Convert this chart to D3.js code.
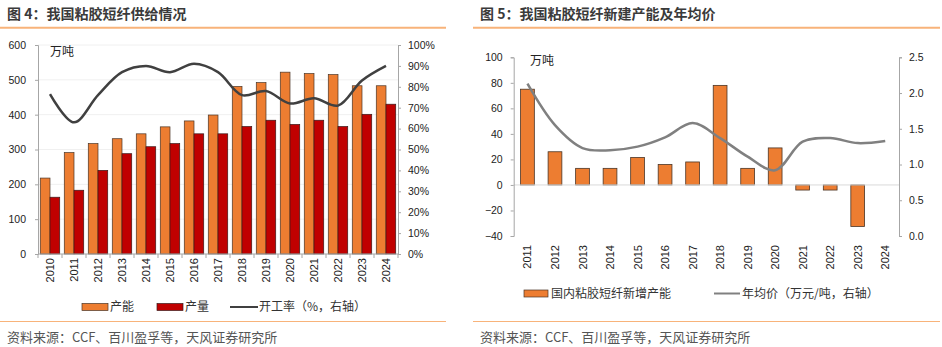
<!DOCTYPE html>
<html><head><meta charset="utf-8">
<script src="https://cdn.jsdelivr.net/npm/d3@7/dist/d3.min.js"></script>
<style>
html,body{margin:0;padding:0;background:#fff;}
svg{display:block;}
text{font-family:"Liberation Sans","Noto Sans CJK SC",sans-serif;}
.cjk{font-family:"Noto Sans CJK SC","Liberation Sans",sans-serif;}
</style></head>
<body>
<svg id="c" width="942" height="347"></svg>
<script>
// ---- Chart 1 data ----
const years1 = ["2010","2011","2012","2013","2014","2015","2016","2017","2018","2019","2020","2021","2022","2023","2024"];
const capacity = [218,291,317,331,345,365,382,399,481,492,522,518,515,483,483];
const production = [163,183,240,288,308,317,345,345,366,384,372,384,366,401,430];
const utilization = [0.765,0.63,0.76,0.87,0.90,0.87,0.91,0.87,0.76,0.78,0.72,0.745,0.71,0.83,0.90];
const leftTicks1 = [0,100,200,300,400,500,600];
const rightTicks1 = [0,0.1,0.2,0.3,0.4,0.5,0.6,0.7,0.8,0.9,1.0];

// ---- Chart 2 data ----
const years2 = ["2011","2012","2013","2014","2015","2016","2017","2018","2019","2020","2021","2022","2023","2024"];
const newCapacity = [75,26,13,13,21.5,16,18,78,13,29,-4,-4,-32.5,null];
const avgPrice = [2.13,1.55,1.23,1.20,1.25,1.38,1.58,1.37,1.11,0.92,1.32,1.37,1.30,1.33];
const leftTicks2 = [-40,-20,0,20,40,60,80,100];
const rightTicks2 = [0,0.5,1.0,1.5,2.0,2.5];

const ORANGE = "#ED7D31", RED = "#C00000", RULE = "#F8B37A";
const svg = d3.select("#c");

// ---- headers, rules, sources ----
function panelFrame(x0, x1, title) {
  svg.append("text").attr("class","cjk").attr("x", x0 + 7).attr("y", 19)
    .attr("font-size", 14).attr("font-weight", "bold").attr("fill", "#3a3a3a").text(title);
  svg.append("line").attr("x1", x0).attr("x2", x1).attr("y1", 27.7).attr("y2", 27.7)
    .attr("stroke", RULE).attr("stroke-width", 2);
  svg.append("line").attr("x1", x0).attr("x2", x1).attr("y1", 321.5).attr("y2", 321.5)
    .attr("stroke", RULE).attr("stroke-width", 1.2);
  svg.append("text").attr("class","cjk").attr("x", x0 + 7).attr("y", 342)
    .attr("font-size", 13).attr("fill", "#555").text("资料来源：CCF、百川盈孚等，天风证券研究所");
}
panelFrame(0, 446, "图 4：我国粘胶短纤供给情况");
panelFrame(473, 940, "图 5：我国粘胶短纤新建产能及年均价");

function styleAxis(g) {
  g.selectAll("path").attr("stroke", "#a6a6a6");
  g.selectAll("line").attr("stroke", "#a6a6a6");
  g.selectAll("text").attr("fill", "#222").attr("font-size", 10.5);
}

// ================= Chart 1 =================
const x1 = d3.scaleBand().domain(years1).range([38, 398]).paddingInner(0.19).paddingOuter(0.095);
const xs1 = d3.scaleBand().domain(["cap","prod"]).range([0, x1.bandwidth()]);
const yL1 = d3.scaleLinear().domain([0, 600]).range([254, 45]);
const yR1 = d3.scaleLinear().domain([0, 1]).range([254, 45]);

const g1 = svg.append("g");
g1.append("g").selectAll("line").data(leftTicks1.slice(1)).join("line")
  .attr("x1", 38).attr("x2", 398).attr("y1", d => yL1(d)).attr("y2", d => yL1(d))
  .attr("stroke", "#f0f0f0");

g1.append("g").selectAll("rect").data(years1).join("rect")
  .attr("x", d => x1(d) + xs1("cap")).attr("width", xs1.bandwidth())
  .attr("y", (d, i) => yL1(capacity[i])).attr("height", (d, i) => yL1(0) - yL1(capacity[i]))
  .attr("fill", ORANGE).attr("stroke", "#4a3526").attr("stroke-width", 0.7);
g1.append("g").selectAll("rect").data(years1).join("rect")
  .attr("x", d => x1(d) + xs1("prod")).attr("width", xs1.bandwidth())
  .attr("y", (d, i) => yL1(production[i])).attr("height", (d, i) => yL1(0) - yL1(production[i]))
  .attr("fill", RED).attr("stroke", "#3a1a1a").attr("stroke-width", 0.7);

const line1 = d3.line().x((d, i) => x1(years1[i]) + x1.bandwidth() / 2).y(d => yR1(d))
  .curve(d3.curveCatmullRom.alpha(0.5));
g1.append("path").datum(utilization).attr("d", line1).attr("fill", "none")
  .attr("stroke", "#404040").attr("stroke-width", 2.5);

const axL1 = g1.append("g").attr("transform", "translate(38,0)")
  .call(d3.axisLeft(yL1).tickValues(leftTicks1).tickSize(3).tickPadding(9).tickFormat(d3.format("d")));
styleAxis(axL1);
const axR1 = g1.append("g").attr("transform", "translate(398,0)")
  .call(d3.axisRight(yR1).tickValues(rightTicks1).tickSize(3).tickPadding(7).tickFormat(d3.format(".0%")));
styleAxis(axR1);
// bottom axis
g1.append("line").attr("x1", 38).attr("x2", 398).attr("y1", 254).attr("y2", 254).attr("stroke", "#a6a6a6");
g1.append("g").selectAll("line").data(years1.concat(["end"])).join("line")
  .attr("x1", (d, i) => 38 + i * x1.step() * (360 / (x1.step() * years1.length)))
  .attr("x2", (d, i) => 38 + i * x1.step() * (360 / (x1.step() * years1.length)))
  .attr("y1", 254).attr("y2", 258).attr("stroke", "#a6a6a6");
g1.append("g").selectAll("text").data(years1).join("text")
  .attr("transform", d => `translate(${x1(d) + x1.bandwidth() / 2},258) rotate(-90)`)
  .attr("text-anchor", "end").attr("dominant-baseline", "central")
  .attr("font-size", 11).attr("fill", "#222").text(d => d);
g1.append("text").attr("class","cjk").attr("x", 50).attr("y", 56).attr("font-size", 12).attr("fill", "#222").text("万吨");

// legend 1
const lg1 = g1.append("g");
lg1.append("rect").attr("x", 82).attr("y", 303.5).attr("width", 26).attr("height", 7).attr("fill", ORANGE).attr("stroke", "#4a3526").attr("stroke-width", 0.7);
lg1.append("text").attr("class","cjk").attr("x", 110).attr("y", 311).attr("font-size", 12).attr("fill", "#333").text("产能");
lg1.append("rect").attr("x", 157).attr("y", 303.5).attr("width", 26).attr("height", 7).attr("fill", RED).attr("stroke", "#3a1a1a").attr("stroke-width", 0.7);
lg1.append("text").attr("class","cjk").attr("x", 185).attr("y", 311).attr("font-size", 12).attr("fill", "#333").text("产量");
lg1.append("line").attr("x1", 230).attr("x2", 258).attr("y1", 307).attr("y2", 307).attr("stroke", "#404040").attr("stroke-width", 2);
lg1.append("text").attr("class","cjk").attr("x", 259).attr("y", 311).attr("font-size", 12).attr("fill", "#333").text("开工率（%，右轴）");

// ================= Chart 2 =================
const x2 = d3.scaleBand().domain(years2).range([513.7, 899]).paddingInner(0.5).paddingOuter(0.25);
const yL2 = d3.scaleLinear().domain([-40, 100]).range([236, 57.3]);
const yR2 = d3.scaleLinear().domain([0, 2.5]).range([236, 57.3]);
const g2 = svg.append("g");

g2.append("g").selectAll("rect").data(years2.filter((d, i) => newCapacity[i] !== null)).join("rect")
  .attr("x", d => x2(d)).attr("width", x2.bandwidth())
  .attr("y", d => yL2(Math.max(0, newCapacity[years2.indexOf(d)])))
  .attr("height", d => Math.abs(yL2(newCapacity[years2.indexOf(d)]) - yL2(0)))
  .attr("fill", ORANGE).attr("stroke", "#4a3526").attr("stroke-width", 0.8);

g2.append("line").attr("x1", 513.7).attr("x2", 899).attr("y1", yL2(0)).attr("y2", yL2(0))
  .attr("stroke", "#d9d9d9").attr("stroke-width", 1);

const line2 = d3.line().x((d, i) => x2(years2[i]) + x2.bandwidth() / 2).y(d => yR2(d))
  .curve(d3.curveCatmullRom.alpha(0.5));
g2.append("path").datum(avgPrice).attr("d", line2).attr("fill", "none")
  .attr("stroke", "#808080").attr("stroke-width", 2.5);

const axL2 = g2.append("g").attr("transform", "translate(513.7,0)")
  .call(d3.axisLeft(yL2).tickValues(leftTicks2).tickSize(3).tickPadding(8).tickFormat(d3.format("d")));
styleAxis(axL2);
const axR2 = g2.append("g").attr("transform", "translate(899,0)")
  .call(d3.axisRight(yR2).tickValues(rightTicks2).tickSize(3).tickPadding(7).tickFormat(d3.format(".1f")));
styleAxis(axR2);

g2.append("g").selectAll("text").data(years2).join("text")
  .attr("transform", d => `translate(${x2(d) + x2.bandwidth() / 2},245) rotate(-90)`)
  .attr("text-anchor", "end").attr("dominant-baseline", "central")
  .attr("font-size", 11).attr("fill", "#222").text(d => d);
g2.append("text").attr("class","cjk").attr("x", 530).attr("y", 65).attr("font-size", 12).attr("fill", "#222").text("万吨");

const lg2 = g2.append("g");
lg2.append("rect").attr("x", 524).attr("y", 290).attr("width", 24).attr("height", 7).attr("fill", ORANGE).attr("stroke", "#4a3526").attr("stroke-width", 0.7);
lg2.append("text").attr("class","cjk").attr("x", 551).attr("y", 297.5).attr("font-size", 12).attr("fill", "#333").text("国内粘胶短纤新增产能");
lg2.append("line").attr("x1", 714).attr("x2", 740).attr("y1", 293.5).attr("y2", 293.5).attr("stroke", "#808080").attr("stroke-width", 2);
lg2.append("text").attr("class","cjk").attr("x", 742).attr("y", 297.5).attr("font-size", 12).attr("fill", "#333").text("年均价（万元/吨，右轴）");
</script>
</body></html>
